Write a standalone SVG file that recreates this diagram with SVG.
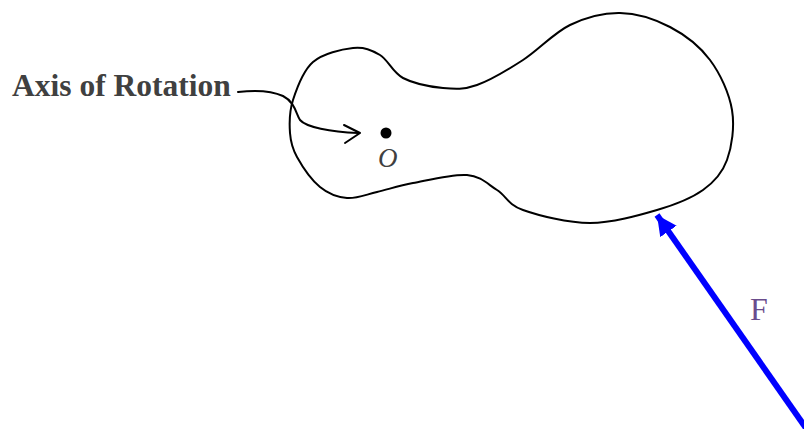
<svg xmlns="http://www.w3.org/2000/svg" width="804" height="429" viewBox="0 0 804 429">
<style>
.outline{fill:none;stroke:#000;stroke-width:2;stroke-linejoin:round;stroke-linecap:round}
.lbl{font-family:"Liberation Serif","Times New Roman",serif;fill:#404040}
</style>
<defs>
<marker id="blueHead" markerUnits="userSpaceOnUse" markerWidth="24" markerHeight="22" refX="20" refY="10" orient="auto">
<path d="M0,0 L20,10 L0,20 Z" fill="#0000ff"/>
</marker>
</defs>
<rect width="804" height="429" fill="#fff"/>
<g id="body">
<path class="outline" d="M353,48 C364.2,46.8 371.7,50 380,55 C388.3,60 392.5,72.5 403,78 C413.5,83.5 430.7,86.8 443,88 C455.3,89.2 463.7,89.7 477,85 C490.3,80.3 507.5,70 523,60 C538.5,50 553.8,32.8 570,25 C586.2,17.2 603.3,12.7 620,13 C636.7,13.3 655,19.2 670,27 C685,34.8 699.7,46.2 710,60 C720.3,73.8 729.2,93.3 732,110 C734.8,126.7 731.8,146.7 727,160 C722.2,173.3 714.7,181.7 703,190 C691.3,198.3 675.8,204.5 657,210 C638.2,215.5 612.3,223 590,223 C567.7,223 538.5,215.5 523,210 C507.5,204.5 506.3,195.8 497,190 C487.7,184.2 481,176.2 467,175 C453,173.8 428,180.2 413,183 C398,185.8 388,189.5 377,192 C366,194.5 356.5,198.8 347,198 C337.5,197.2 328.3,193.8 320,187 C311.7,180.2 302,166 297,157 C292,148 290.7,142.5 290,133 C289.3,123.5 289.2,111.8 293,100 C296.8,88.2 303,70.7 313,62 C323,53.3 341.8,49.2 353,48 Z"/>
</g>
<g id="axis">
<circle cx="386" cy="133" r="5.5" fill="#000"/>
<text class="lbl" x="378" y="167" font-size="27" font-style="italic">O</text>
</g>
<g id="axis-label">
<text class="lbl" x="12" y="96" font-size="31.5" font-weight="bold">Axis of Rotation</text>
</g>
<g id="force-label">
<text class="lbl" x="750" y="320" font-size="32" style="fill:#6a4c8c">F</text>
</g>
<g id="connectors">
<path class="outline" d="M238,92 C255,90 270,90 283,96 C295,102 296,114 300,120 C306,127 330,132 358,133"/>
<path class="outline" d="M344,125 L360,133 L345,143"/>
<line x1="808" y1="431" x2="657" y2="215" stroke="#0000ff" stroke-width="6" marker-end="url(#blueHead)"/>
</g>
</svg>
